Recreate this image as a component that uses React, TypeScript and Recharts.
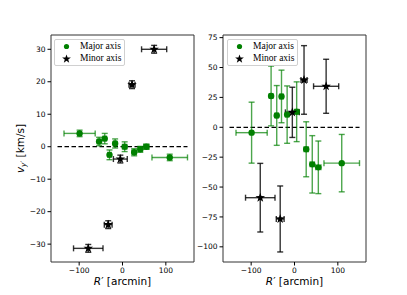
import {
  ScatterChart,
  Scatter,
  XAxis,
  YAxis,
  ErrorBar,
  ReferenceLine,
  ReferenceArea,
} from 'recharts';

// R' positions (arcmin) and their errors, shared by both panels
const majorR = [-99, -54, -41, -30, -17, 5, 27, 41, 55, 109];
const majorRErr = [36, 4, 4, 4, 4, 5, 5, 5, 6, 41];
const minorR = [-79, -33, -5, 22, 73];
const minorRErr = [34, 9, 16, 7, 29];

// left panel: v_y'
const majorVy = [4.1, 1.6, 2.5, -2.5, 1.0, 0.0, -1.7, -0.8, 0.0, -3.3];
const majorVyErr = [1.0, 1.3, 1.6, 1.5, 1.4, 1.5, 1.1, 0.9, 0.8, 1.0];
const minorVy = [-31.3, -24.0, -3.8, 19.1, 30.0];
const minorVyErr = [1.2, 1.2, 1.2, 1.2, 1.2];

// right panel
const majorV2 = [-4.5, 26.2, 9.9, 25.8, 10.6, 13.0, -18.4, -31.0, -33.5, -30.0];
const majorV2Err = [25.5, 25, 25, 22, 24, 25, 23, 24, 22, 24];
const minorV2 = [-58.9, -76.7, 12.5, 39.6, 34.3];
const minorV2Err = [28.7, 27.6, 21, 28.7, 22.6];

const xTicks = [-100, 0, 100];
const leftYTicks = [-30, -20, -10, 0, 10, 20, 30];
const rightYTicks = [-100, -75, -50, -25, 0, 25, 50, 75];

const X_DOMAIN: [number, number] = [-165, 165];
const GREEN = '#008000';

const toPoints = (xs: number[], exs: number[], ys: number[], eys: number[]) =>
  xs.map((x, i) => ({ x, ex: exs[i], y: ys[i], ey: eys[i] }));

const fmt = (v: number) => (v < 0 ? `\u2212${-v}` : `${v}`);

const Dot = (props: any) => {
  const { cx, cy } = props;
  return <circle cx={cx} cy={cy} r={3.2} fill={GREEN} />;
};

const starPath = (cx: number, cy: number, r: number) => {
  const pts: string[] = [];
  for (let i = 0; i < 10; i++) {
    const rr = i % 2 === 0 ? r : r * 0.4;
    const a = -Math.PI / 2 + (i * Math.PI) / 5;
    pts.push(`${(cx + rr * Math.cos(a)).toFixed(2)},${(cy + rr * Math.sin(a)).toFixed(2)}`);
  }
  return `M${pts.join('L')}Z`;
};

const Star = (props: any) => {
  const { cx, cy } = props;
  return <path d={starPath(cx, cy, 5)} fill="#000" />;
};

const tickStyle = { fontSize: 7.5, fill: '#000', fontFamily: 'DejaVu Sans' };

interface PanelProps {
  left: number;
  width: number;
  axisWidth: number;
  marginRight: number;
  yDomain: [number, number];
  yTicks: number[];
  major: { x: number; ex: number; y: number; ey: number }[];
  minor: { x: number; ex: number; y: number; ey: number }[];
}

function Panel({ left, width, axisWidth, marginRight, yDomain, yTicks, major, minor }: PanelProps) {
  return (
    <div style={{ position: 'absolute', left, top: 0 }}>
      <ScatterChart
        width={width}
        height={295}
        margin={{ top: 35, right: marginRight, bottom: 0, left: 0 }}
      >
        <XAxis
          type="number"
          dataKey="x"
          domain={X_DOMAIN}
          ticks={xTicks}
          allowDataOverflow
          height={33}
          tick={tickStyle}
          tickSize={3.5}
          tickMargin={2}
          tickLine={{ stroke: '#000' }}
          axisLine={false}
          tickFormatter={fmt}
        />
        <YAxis
          type="number"
          dataKey="y"
          domain={yDomain}
          ticks={yTicks}
          allowDataOverflow
          width={axisWidth}
          tick={tickStyle}
          tickSize={3.5}
          tickMargin={2}
          tickLine={{ stroke: '#000' }}
          axisLine={false}
          tickFormatter={fmt}
        />
        <ReferenceArea
          x1={X_DOMAIN[0]}
          x2={X_DOMAIN[1]}
          y1={yDomain[0]}
          y2={yDomain[1]}
          fill="none"
          stroke="#333"
          strokeWidth={1}
          fillOpacity={0}
        />
        <ReferenceLine
          segment={[
            { x: -150, y: 0 },
            { x: 150, y: 0 },
          ]}
          stroke="#000"
          strokeWidth={1.2}
          strokeDasharray="4.5 2.5"
        />
        <Scatter data={major} shape={<Dot />} isAnimationActive={false}>
          <ErrorBar dataKey="ex" direction="x" width={3} stroke={GREEN} strokeOpacity={0.7} strokeWidth={1.4} />
          <ErrorBar dataKey="ey" direction="y" width={3} stroke={GREEN} strokeOpacity={0.7} strokeWidth={1.4} />
        </Scatter>
        <Scatter data={minor} shape={<Star />} isAnimationActive={false}>
          <ErrorBar dataKey="ex" direction="x" width={3} stroke="#000" strokeOpacity={0.8} strokeWidth={1.4} />
          <ErrorBar dataKey="ey" direction="y" width={3} stroke="#000" strokeOpacity={0.8} strokeWidth={1.4} />
        </Scatter>
      </ScatterChart>
    </div>
  );
}

function LegendBox({ left }: { left: number }) {
  const row = (marker: JSX.Element, label: string, top: number) => (
    <div style={{ position: 'absolute', left: 0, top, height: 11, width: 70 }}>
      <svg width={20} height={11} style={{ position: 'absolute', left: 6, top: 0 }}>
        {marker}
      </svg>
      <span
        style={{
          position: 'absolute',
          left: 25,
          top: -1,
          fontFamily: 'Liberation Serif',
          fontSize: 9.5,
          lineHeight: '12px',
          color: '#000',
          whiteSpace: 'nowrap',
        }}
      >
        {label}
      </span>
    </div>
  );
  return (
    <div
      style={{
        position: 'absolute',
        left,
        top: 39,
        width: 69,
        height: 25,
        border: '1px solid #d0d0d0',
        borderRadius: 2,
        background: 'rgba(255,255,255,0.85)',
      }}
    >
      {row(<circle cx={5.5} cy={5.5} r={2.6} fill={GREEN} />, 'Major axis', 1)}
      {row(<path d={starPath(5.5, 6, 4.6)} fill="#000" />, 'Minor axis', 12.5)}
    </div>
  );
}

export default function App() {
  const leftMajor = toPoints(majorR, majorRErr, majorVy, majorVyErr);
  const leftMinor = toPoints(minorR, minorRErr, minorVy, minorVyErr);
  const rightMajor = toPoints(majorR, majorRErr, majorV2, majorV2Err);
  const rightMinor = toPoints(minorR, minorRErr, minorV2, minorV2Err);

  return (
    <div style={{ position: 'absolute', left: 0, top: 0, width: 407, height: 295, background: '#fff' }}>
      <Panel
        left={0}
        width={200}
        axisWidth={51}
        marginRight={6}
        yDomain={[-35.5, 34.4]}
        yTicks={leftYTicks}
        major={leftMajor}
        minor={leftMinor}
      />
      <Panel
        left={180}
        width={227}
        axisWidth={43}
        marginRight={41}
        yDomain={[-112.7, 77.2]}
        yTicks={rightYTicks}
        major={rightMajor}
        minor={rightMinor}
      />
      <LegendBox left={54} />
      <LegendBox left={227} />
      <svg
        width={407}
        height={295}
        style={{ position: 'absolute', left: 0, top: 0, pointerEvents: 'none' }}
        fontFamily="DejaVu Sans"
        fontSize={10.5}
      >
        <text x={20} y={148.5} textAnchor="middle" dominantBaseline="central" transform="rotate(-90 20 148.5)">
          <tspan fontStyle="italic">v</tspan>
          <tspan fontStyle="italic" fontSize={7.5} dy={2.5}>y′</tspan>
          <tspan dy={-2.5}> [km/s]</tspan>
        </text>
        <text x={122.5} y={285} textAnchor="middle">
          <tspan fontStyle="italic">R</tspan>′ [arcmin]
        </text>
        <text x={294.5} y={285} textAnchor="middle">
          <tspan fontStyle="italic">R</tspan>′ [arcmin]
        </text>
      </svg>
    </div>
  );
}
